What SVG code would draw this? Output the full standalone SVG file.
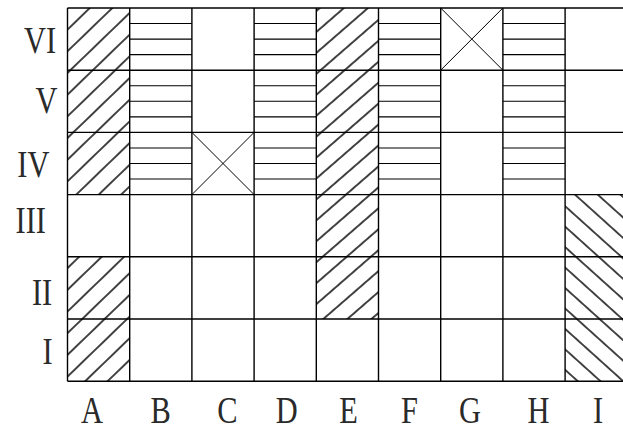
<svg xmlns="http://www.w3.org/2000/svg" width="623" height="433" viewBox="0 0 623 433">
<style>
.grid{stroke:#000;stroke-width:1.4;fill:none}
.thin{stroke:#000;stroke-width:1;fill:none}
.hl{stroke:#000;stroke-width:1.1;fill:none}
.lbl{font-size:38px;fill:#2a2a2a;text-anchor:middle;font-weight:normal}
</style>
<defs>
<pattern id="hatchA" patternUnits="userSpaceOnUse" width="40" height="15.6" patternTransform="translate(73.3,132.4) rotate(-44) translate(0,-7.8)">
<line x1="-5" y1="7.8" x2="45" y2="7.8" stroke="#000" stroke-width="1.3"/>
</pattern>
<pattern id="hatchE" patternUnits="userSpaceOnUse" width="40" height="15.8" patternTransform="translate(346.7,256.8) rotate(-41) translate(0,-7.9)">
<line x1="-5" y1="7.9" x2="45" y2="7.9" stroke="#000" stroke-width="1.3"/>
</pattern>
<pattern id="hatchI" patternUnits="userSpaceOnUse" width="40" height="15.2" patternTransform="translate(565.7,206.7) rotate(42) translate(0,-7.6)">
<line x1="-5" y1="7.6" x2="45" y2="7.6" stroke="#000" stroke-width="1.3"/>
</pattern>
</defs>

<g id="cells">
<g id="hatch-A-upper"><rect x="67.5" y="8" width="62.2" height="186.6" fill="url(#hatchA)"/></g>
<g id="hatch-A-lower"><rect x="67.5" y="256.8" width="62.2" height="124.4" fill="url(#hatchA)"/></g>
<g id="hatch-E"><rect x="316.3" y="8" width="62.2" height="311" fill="url(#hatchE)"/></g>
<g id="hatch-I"><rect x="565.1" y="194.6" width="62.2" height="186.6" fill="url(#hatchI)"/></g>
<g id="lines-B" class="hl">
<path d="M129.7 23.55H191.9M129.7 39.1H191.9M129.7 54.65H191.9M129.7 85.75H191.9M129.7 101.3H191.9M129.7 116.85H191.9M129.7 147.95H191.9M129.7 163.5H191.9M129.7 179.05H191.9"/>
</g>
<g id="lines-D" class="hl">
<path d="M254.1 23.55H316.3M254.1 39.1H316.3M254.1 54.65H316.3M254.1 85.75H316.3M254.1 101.3H316.3M254.1 116.85H316.3M254.1 147.95H316.3M254.1 163.5H316.3M254.1 179.05H316.3"/>
</g>
<g id="lines-F" class="hl">
<path d="M378.5 23.55H440.7M378.5 39.1H440.7M378.5 54.65H440.7M378.5 85.75H440.7M378.5 101.3H440.7M378.5 116.85H440.7M378.5 147.95H440.7M378.5 163.5H440.7M378.5 179.05H440.7"/>
</g>
<g id="lines-H" class="hl">
<path d="M502.9 23.55H565.1M502.9 39.1H565.1M502.9 54.65H565.1M502.9 85.75H565.1M502.9 101.3H565.1M502.9 116.85H565.1M502.9 147.95H565.1M502.9 163.5H565.1M502.9 179.05H565.1"/>
</g>
<g id="cross-C-IV" class="thin"><path d="M191.9 132.4L254.1 194.6M254.1 132.4L191.9 194.6"/></g>
<g id="cross-G-VI" class="thin"><path d="M440.7 8L502.9 70.2M502.9 8L440.7 70.2"/></g>
</g>

<g id="grid" class="grid">
<path d="M67.5 8H627.3M67.5 70.2H627.3M67.5 132.4H627.3M67.5 194.6H627.3M67.5 256.8H627.3M67.5 319H627.3M67.5 381.2H627.3"/>
<path d="M67.5 8V381.2M129.7 8V381.2M191.9 8V381.2M254.1 8V381.2M316.3 8V381.2M378.5 8V381.2M440.7 8V381.2M502.9 8V381.2M565.1 8V381.2M627.3 8V381.2"/>
</g>

<g id="row-labels" font-family="'Liberation Serif', 'DejaVu Serif', serif">
<text class="lbl" transform="translate(40,53) scale(0.8,1)">VI</text>
<text class="lbl" transform="translate(46.5,113) scale(0.8,1)">V</text>
<text class="lbl" transform="translate(33.3,177) scale(0.8,1)">IV</text>
<text class="lbl" transform="translate(30.8,233) scale(0.8,1)">III</text>
<text class="lbl" transform="translate(42,305) scale(0.8,1)">II</text>
<text class="lbl" transform="translate(47.5,364) scale(0.8,1)">I</text>
</g>
<g id="column-labels" font-family="'Liberation Serif', 'DejaVu Serif', serif">
<text class="lbl" transform="translate(92,423) scale(0.8,1)">A</text>
<text class="lbl" transform="translate(160.7,423) scale(0.8,1)">B</text>
<text class="lbl" transform="translate(227.3,423) scale(0.8,1)">C</text>
<text class="lbl" transform="translate(286.6,423) scale(0.8,1)">D</text>
<text class="lbl" transform="translate(348.5,423) scale(0.8,1)">E</text>
<text class="lbl" transform="translate(409.5,423) scale(0.8,1)">F</text>
<text class="lbl" transform="translate(470,423) scale(0.8,1)">G</text>
<text class="lbl" transform="translate(538.5,423) scale(0.8,1)">H</text>
<text class="lbl" transform="translate(598,423) scale(0.8,1)">I</text>
</g>
</svg>
